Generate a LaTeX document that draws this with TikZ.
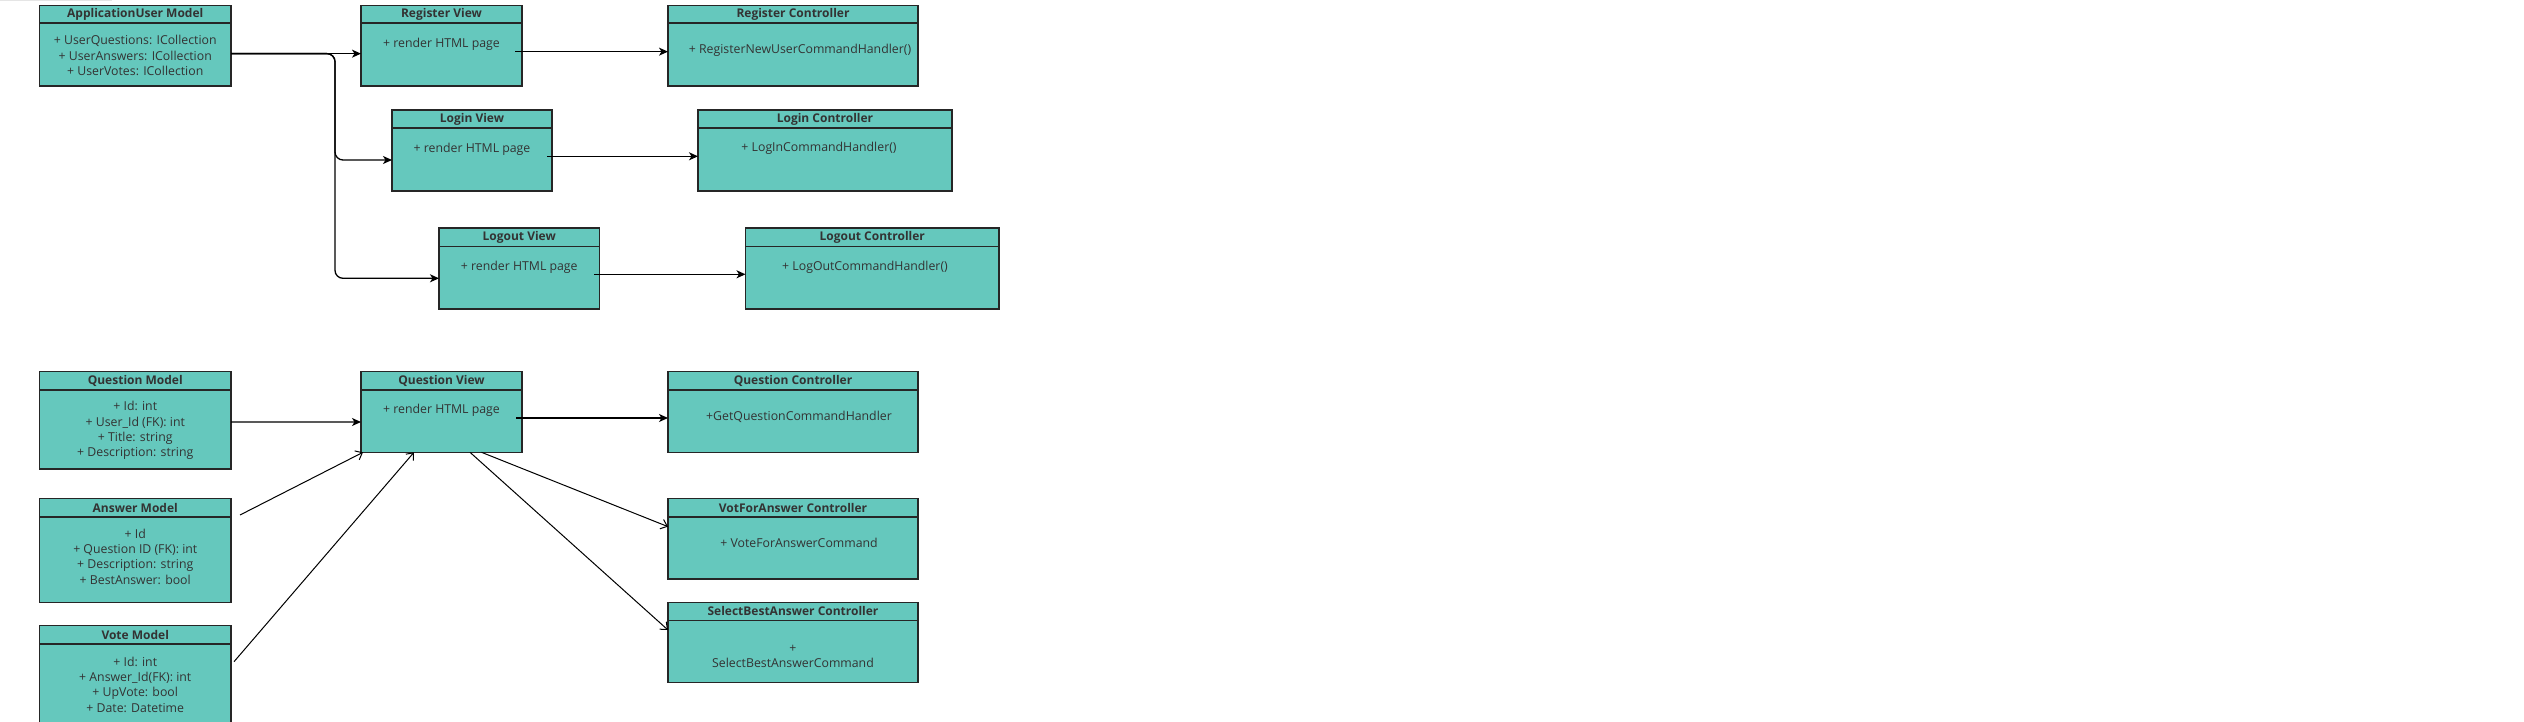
\documentclass[tikz,border=0pt]{standalone}
\usepackage{fontspec}
\setmainfont{Open Sans}
\usetikzlibrary{arrows.meta}
\definecolor{boxfill}{HTML}{65C8BD}
\definecolor{boxline}{HTML}{262626}
\definecolor{textgray}{HTML}{333333}
\begin{document}
\begin{tikzpicture}[x=1pt,y=-1pt,
  box/.style={draw=boxline, line width=1.3pt, fill=boxfill, inner sep=0pt, outer sep=0pt, anchor=north west},
  title/.style={font=\fontsize{12}{14}\selectfont\bfseries, text=textgray, inner sep=0pt},
  member/.style={font=\fontsize{12.3}{15.3}\selectfont, text=textgray, align=center, inner sep=0pt},
  divider/.style={draw=boxline, line width=1.6pt},
  flow/.style={-{Stealth[length=9pt,width=8pt,inset=2.5pt]}, line width=1.3pt},
  link/.style={-{Straight Barb[length=6pt,width=10pt]}, line width=1pt}]

\useasboundingbox (0,0) rectangle (2524,722);
\fill[gray!20] (0,0) rectangle (112,1.5);

\node[box, minimum width=191.5pt, minimum height=80.7pt] (appuser) at (39.5,5.3) {};
\draw[divider] ([yshift=-18pt]appuser.north west) -- ([yshift=-18pt]appuser.north east);
\node[title] (appusertitle) at (135.25,14.3) {ApplicationUser Model};
\node[member] (appuserbody) at (135.25,55.7) {+ UserQuestions: ICollection\\+ UserAnswers: ICollection\\+ UserVotes: ICollection};

\node[box, minimum width=161pt, minimum height=80.7pt] (regview) at (361,5.3) {};
\draw[divider] ([yshift=-18pt]regview.north west) -- ([yshift=-18pt]regview.north east);
\node[title] (regviewtitle) at (441.5,14.3) {Register View};
\node[member] (regviewbody) at (441.5,44.3) {+ render HTML page};

\node[box, minimum width=250pt, minimum height=80.7pt] (regctrl) at (668,5.3) {};
\draw[divider] ([yshift=-18pt]regctrl.north west) -- ([yshift=-18pt]regctrl.north east);
\node[title] (regctrltitle) at (793,14.3) {Register Controller};
\node[member] (regctrlbody) at (800,50.7) {+ RegisterNewUserCommandHandler()};

\node[box, minimum width=160pt, minimum height=81pt] (loginview) at (392,110) {};
\draw[divider] ([yshift=-18pt]loginview.north west) -- ([yshift=-18pt]loginview.north east);
\node[title] (loginviewtitle) at (472,119) {Login View};
\node[member] (loginviewbody) at (472,149) {+ render HTML page};

\node[box, minimum width=254pt, minimum height=81pt] (loginctrl) at (698,110) {};
\draw[divider] ([yshift=-18pt]loginctrl.north west) -- ([yshift=-18pt]loginctrl.north east);
\node[title] (loginctrltitle) at (825,119) {Login Controller};
\node[member] (loginctrlbody) at (819,148.7) {+ LogInCommandHandler()};

\node[box, minimum width=160.5pt, minimum height=81pt] (logoutview) at (439,228) {};
\draw[divider] ([yshift=-18.5pt]logoutview.north west) -- ([yshift=-18.5pt]logoutview.north east);
\node[title] (logoutviewtitle) at (519.25,237.3) {Logout View};
\node[member] (logoutviewbody) at (519.25,267.3) {+ render HTML page};

\node[box, minimum width=253.5pt, minimum height=81pt] (logoutctrl) at (745.5,228) {};
\draw[divider] ([yshift=-18.5pt]logoutctrl.north west) -- ([yshift=-18.5pt]logoutctrl.north east);
\node[title] (logoutctrltitle) at (872.25,237.3) {Logout Controller};
\node[member] (logoutctrlbody) at (865,267) {+ LogOutCommandHandler()};

\node[box, minimum width=191.5pt, minimum height=97.3pt] (qmodel) at (39.5,371.7) {};
\draw[divider] ([yshift=-18.3pt]qmodel.north west) -- ([yshift=-18.3pt]qmodel.north east);
\node[title] (qmodeltitle) at (135.25,380.9) {Question Model};
\node[member] (qmodelbody) at (135.25,430.7) {+ Id: int\\+ User\_Id (FK): int\\+ Title: string\\+ Description: string};

\node[box, minimum width=161pt, minimum height=80.6pt] (qview) at (361,371.7) {};
\draw[divider] ([yshift=-18.3pt]qview.north west) -- ([yshift=-18.3pt]qview.north east);
\node[title] (qviewtitle) at (441.5,380.9) {Question View};
\node[member] (qviewbody) at (441.5,410.7) {+ render HTML page};

\node[box, minimum width=250pt, minimum height=80.6pt] (qctrl) at (668,371.7) {};
\draw[divider] ([yshift=-18.3pt]qctrl.north west) -- ([yshift=-18.3pt]qctrl.north east);
\node[title] (qctrltitle) at (793,380.9) {Question Controller};
\node[member] (qctrlbody) at (799,416.7) {+GetQuestionCommandHandler};

\node[box, minimum width=191.5pt, minimum height=104pt] (amodel) at (39.5,498.3) {};
\draw[divider] ([yshift=-18.4pt]amodel.north west) -- ([yshift=-18.4pt]amodel.north east);
\node[title] (amodeltitle) at (135.25,507.5) {Answer Model};
\node[member] (amodelbody) at (135.25,556.7) {+ Id\\+ Question ID (FK): int\\+ Description: string\\+ BestAnswer: bool};

\node[box, minimum width=191.5pt, minimum height=110pt] (vmodel) at (39.5,625.7) {};
\draw[divider] ([yshift=-18.3pt]vmodel.north west) -- ([yshift=-18.3pt]vmodel.north east);
\node[title] (vmodeltitle) at (135.25,634.9) {Vote Model};
\node[member] (vmodelbody) at (135.25,684.5) {+ Id: int\\+ Answer\_Id(FK): int\\+ UpVote: bool\\+ Date: Datetime};

\node[box, minimum width=250pt, minimum height=80.7pt] (votectrl) at (668,498.3) {};
\draw[divider] ([yshift=-18.4pt]votectrl.north west) -- ([yshift=-18.4pt]votectrl.north east);
\node[title] (votectrltitle) at (793,507.5) {VotForAnswer Controller};
\node[member] (votectrlbody) at (799,543.3) {+ VoteForAnswerCommand};

\node[box, minimum width=250pt, minimum height=80.4pt] (selctrl) at (668,602.3) {};
\draw[divider] ([yshift=-18pt]selctrl.north west) -- ([yshift=-18pt]selctrl.north east);
\node[title] (selctrltitle) at (793,611.3) {SelectBestAnswer Controller};
\node[member] (selctrlbody) at (793,656.7) {+\\SelectBestAnswerCommand};

\coordinate (split) at (335,53.65);
\draw[flow] ([yshift=-8pt]appuser.east) -- ([yshift=-8pt]regview.west);
\draw[flow, rounded corners=8pt] ([yshift=-8pt]appuser.east) -- (split) |- ([yshift=-9.5pt]loginview.west);
\draw[flow, rounded corners=8pt] ([yshift=-8pt]appuser.east) -- (split) |- ([yshift=-9.8pt]logoutview.west);

\draw[flow] ([xshift=-7pt,yshift=-6pt]regview.east) -- ([yshift=-6pt]regctrl.west);
\draw[flow] ([xshift=-5pt,yshift=-5.8pt]loginview.east) -- ([yshift=-5.8pt]loginctrl.west);
\draw[flow] ([xshift=-5.5pt,yshift=-5.8pt]logoutview.east) -- ([yshift=-5.8pt]logoutctrl.west);

\draw[flow] ([yshift=-1.7pt]qmodel.east) -- ([yshift=-10pt]qview.west);
\draw[flow] ([xshift=-6pt,yshift=-6pt]qview.east) -- ([yshift=-6pt]qctrl.west);

\draw[link] ([xshift=9pt,yshift=-16.7pt]amodel.north east) -- ([xshift=2pt]qview.south west);
\draw[link] ([xshift=3pt,yshift=-36pt]vmodel.north east) -- ([xshift=-27.5pt]qview.south);
\draw[link] ([xshift=40pt]qview.south) -- ([yshift=12pt]votectrl.west);
\draw[link] ([xshift=28.5pt]qview.south) -- ([yshift=12.5pt]selctrl.west);
\end{tikzpicture}
\end{document}
